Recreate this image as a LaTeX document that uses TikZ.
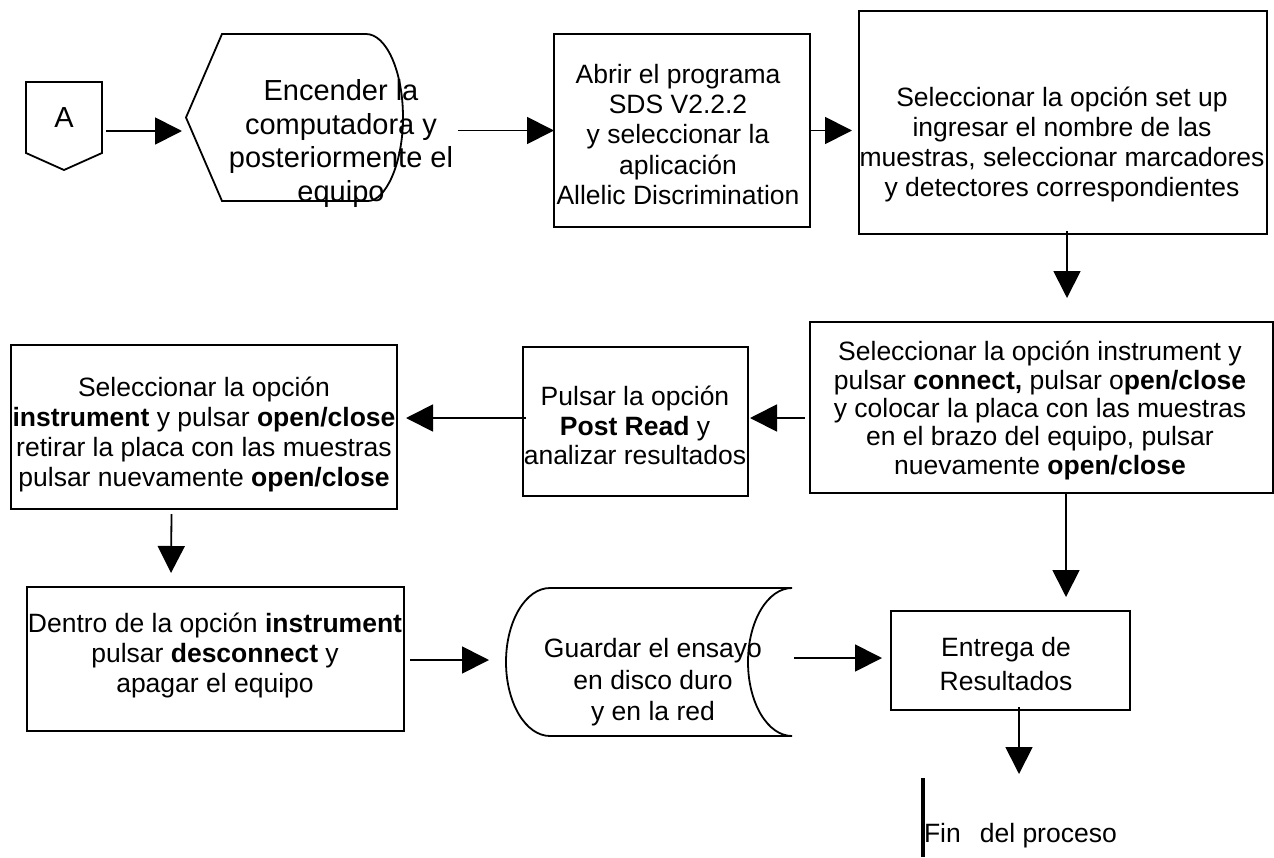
\documentclass[tikz,border=0pt]{standalone}
\usepackage{fontspec}
\setmainfont{Liberation Sans}
\usetikzlibrary{arrows.meta,calc}
\begin{document}
\begin{tikzpicture}[x=1pt,y=-1pt,
  every node/.style={inner sep=0pt, outer sep=0pt},
  outline/.style={draw, line width=1.8pt, line join=miter},
  frame/.style={rectangle, minimum width=#1},
  procbox/.style={draw, line width=1.8pt, rectangle},
  ghost/.style={rectangle},
  txt/.style={align=center, font=\fontsize{26.5}{#1}\selectfont},
  arr/.style={line width=1.8pt, -{Triangle[length=27pt,width=27pt]}}
]
\path[use as bounding box, fill=white] (0,0) rectangle (1274,857);

% ---- shapes ----
\node[ghost, minimum width=76pt, minimum height=88pt] (pA) at (64,126) {};
\draw[outline] (pA.north west) -- (pA.north east) -- ($(pA.north east)+(0,71)$)
  -- (pA.south) -- ($(pA.north west)+(0,71)$) -- cycle;

\node[ghost, minimum width=217pt, minimum height=167pt] (disp) at (294.5,117.5) {};
\draw[outline] (disp.west) -- ($(disp.north west)+(36,0)$) -- ($(disp.north east)+(-37,0)$)
  .. controls +(20.4,0) and +(0,-46.1) .. (disp.east)
  .. controls +(0,46.1) and +(17.6,0) .. ($(disp.south east)+(-35,0)$)
  -- ($(disp.south west)+(36,0)$) -- cycle;

\node[procbox, minimum width=256pt, minimum height=193pt] (box2) at (682,130.5) {};
\node[procbox, minimum width=408pt, minimum height=223pt] (box3) at (1063,122.5) {};
\node[procbox, minimum width=463pt, minimum height=171pt] (box4) at (1041.5,407.5) {};
\node[procbox, minimum width=225pt, minimum height=149pt] (box5) at (635.5,421.5) {};
\node[procbox, minimum width=386pt, minimum height=164pt] (box6) at (204,427) {};
\node[procbox, minimum width=377pt, minimum height=144pt] (box7) at (215.5,659) {};
\node[procbox, minimum width=239pt, minimum height=99pt] (entrega) at (1010.5,660.5) {};

\node[ghost, minimum width=286pt, minimum height=148pt] (stor) at (649,662) {};
\draw[outline] ($(stor.north west)+(44,0)$) -- (stor.north east)
  .. controls +(-24.3,0) and +(0,-40.9) .. ($(stor.east)+(-44,0)$)
  .. controls +(0,40.9) and +(-24.3,0) .. (stor.south east)
  -- ($(stor.south west)+(44,0)$)
  .. controls +(-24.3,0) and +(0,40.9) .. (stor.west)
  .. controls +(0,-40.9) and +(-24.3,0) .. ($(stor.north west)+(44,0)$) -- cycle;

% ---- texts ----
\node[font=\fontsize{29}{33}\selectfont] (tA) at (64,118) {A};
\node[align=center, font=\fontsize{29}{33.5}\selectfont] (tDisp) at (341,143.5)
  {Encender la\\computadora y\\posteriormente el\\equipo};
\node[txt=30.25] (t2) at (678,134.5)
  {Abrir el programa\\SDS V2.2.2\\y seleccionar la\\aplicación\\Allelic Discrimination};
\node[txt=30.3] (t3) at (1062,144.5)
  {Seleccionar la opción set up\\ingresar el nombre de las\\muestras, seleccionar marcadores\\y detectores correspondientes};
\node[txt=28.3] (t4) at (1040,410.5)
  {Seleccionar la opción instrument y\\pulsar \textbf{connect,} pulsar o\textbf{pen/close}\\y colocar la placa con las muestras\\en el brazo del equipo, pulsar\\nuevamente \textbf{open/close}};
\node[txt=29.5] (t5) at (635,425.5)
  {Pulsar la opción\\\textbf{Post Read} y\\analizar resultados};
\node[txt=30] (t6) at (204,434)
  {Seleccionar la opción\\\textbf{instrument} y pulsar \textbf{open/close}\\retirar la placa con las muestras\\pulsar nuevamente \textbf{open/close}};
\node[txt=30] (t7) at (215,655)
  {Dentro de la opción \textbf{instrument}\\pulsar \textbf{desconnect} y\\apagar el equipo};
\node[txt=31.5] (tStor) at (653,682.5)
  {Guardar el ensayo\\en disco duro\\y en la red};
\node[txt=34] (tEnt) at (1006,664) {Entrega de\\Resultados};

% end annotation
\node[anchor=west, font=\fontsize{26.5}{30}\selectfont] (fin) at (924,836) {Fin\hspace{19pt}del proceso};
\draw[line width=4pt] ($(fin.west)+(-1,-58)$) -- ($(fin.west)+(-1,21)$);
\coordinate (finIn) at (1019,774);

% ---- connectors ----
\draw[arr] ($(pA.east)+(4,5)$) -- ($(disp.west)+(-4,13.5)$);
\draw[arr] ($(disp.east)+(55,13)$) -- (box2.west);
\draw[arr] (box2.east) -- ($(box3.west)+(-7,8)$);
\draw[arr] ($(box3.south)+(4,-3)$) -- ($(box4.north)+(25.5,-24)$);
\draw[arr] ($(box4.west)+(-5,10.5)$) -- ($(box5.east)+(2,-3.5)$);
\draw[arr] ($(box5.west)+(3,-3.5)$) -- ($(box6.east)+(9,-9)$);
\draw[arr] ($(box6.south)+(-32.5,5)$) -- ($(box7.north)+(-44.5,-14)$);
\draw[arr] ($(box7.east)+(6,1)$) -- ($(stor.west)+(-17,-2)$);
\draw[arr] ($(stor.east)+(2,-4)$) -- ($(entrega.west)+(-9,-2.5)$);
\draw[arr] ($(box4.south)+(24.5,0)$) -- ($(entrega.north)+(55.5,-14)$);
\draw[arr] ($(entrega.south)+(8.5,-3)$) -- (finIn);
\end{tikzpicture}
\end{document}
